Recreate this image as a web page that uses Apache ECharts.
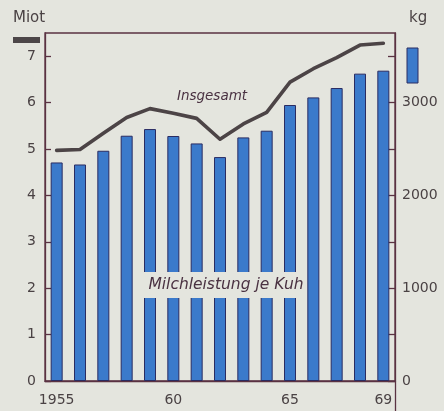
<!DOCTYPE html>
<html>
<head>
<meta charset="utf-8">
<script src="https://cdn.jsdelivr.net/npm/echarts@6/dist/echarts.min.js"></script>
<style>
html,body{margin:0;padding:0;background:#e4e5de;}
#c{width:444px;height:411px;}
</style>
</head>
<body>
<div id="c"></div>
<script>
const years = ['1955','1956','1957','1958','1959','1960','1961','1962','1963','1964','1965','1966','1967','1968','1969'];
const xTickLabels = ['1955','','','','','60','','','','','65','','','','69'];
const yieldKg = [2355, 2333, 2481, 2643, 2715, 2640, 2560, 2413, 2625, 2697, 2974, 3056, 3157, 3312, 3344];
const totalMiot = [4.97, 4.99, 5.34, 5.68, 5.87, 5.77, 5.66, 5.21, 5.54, 5.79, 6.44, 6.73, 6.97, 7.24, 7.28];
const leftTicks = ['0','1','2','3','4','5','6','7'];
const rightTicks = ['0','1000','2000','3000'];

const axisCol = '#5a3242';
const textCol = '#4a4244';
const bg = '#e4e5de';
const font = 'DejaVu Sans';

const chart = echarts.init(document.getElementById('c'), null, {renderer:'canvas'});
chart.setOption({
  backgroundColor: bg,
  animation: false,
  grid: {left:45, right:49, top:33, bottom:30, show:true, borderColor:axisCol, borderWidth:1.3, backgroundColor:'transparent'},
  xAxis: {
    type:'category', data: years, boundaryGap:true,
    axisLine:{show:true, lineStyle:{color:axisCol, width:1.3}},
    axisTick:{show:false},
    axisLabel:{
      interval:0, margin:12, color:textCol, fontFamily:font, fontSize:14,
      formatter:(v,i)=>xTickLabels[i]
    },
    splitLine:{show:false}
  },
  yAxis: [
    {
      type:'value', min:0, max:7.5, interval:1, position:'left',
      axisLine:{show:true, lineStyle:{color:axisCol, width:1.3}},
      axisTick:{show:true, inside:true, length:6, lineStyle:{color:axisCol, width:1.3}},
      axisLabel:{showMaxLabel:false, margin:9, color:textCol, fontFamily:font, fontSize:14,
        formatter:(v)=> leftTicks.includes(String(v)) ? String(v) : ''},
      splitLine:{show:false}
    },
    {
      type:'value', min:0, max:3750, interval:500, position:'right',
      axisLine:{show:true, lineStyle:{color:axisCol, width:1.3}},
      axisTick:{show:true, inside:true, length:7, lineStyle:{color:axisCol, width:1.3}},
      axisLabel:{showMaxLabel:false, margin:7, color:textCol, fontFamily:font, fontSize:14,
        formatter:(v)=> rightTicks.includes(String(v)) ? String(v) : ''},
      splitLine:{show:false}
    }
  ],
  series: [
    {
      type:'bar', yAxisIndex:1, data: yieldKg, barWidth:12,
      itemStyle:{color:'#3b7acb', borderColor:'#2a2c62', borderWidth:1}
    },
    {
      type:'line', yAxisIndex:0, data: totalMiot, symbol:'none', z:5,
      lineStyle:{color:'#4c4446', width:3.6, join:'round', cap:'round'}
    }
  ],
  graphic: [
    {type:'text', left:13, top:11, z:100, style:{text:'Miot', font:'15px "DejaVu Sans"', fill:textCol}},
    {type:'text', left:409, top:11, z:100, style:{text:'kg', font:'15px "DejaVu Sans"', fill:textCol}},
    {type:'rect', shape:{x:13, y:37, width:27, height:6}, z:100, style:{fill:'#4c4648'}},
    {type:'rect', shape:{x:407, y:48, width:11, height:35}, z:100, style:{fill:'#3b7acb', stroke:'#2a2c62', lineWidth:1}},
    {type:'line', shape:{x1:395.5, y1:381, x2:395.5, y2:411}, z:100, style:{stroke:axisCol, lineWidth:1.3}},
    {type:'rect', shape:{x:141, y:272, width:165, height:26}, z:100, style:{fill:bg}},
    {type:'text', x:226, y:285, z:101, style:{text:'Milchleistung je Kuh', font:'italic 15.5px "DejaVu Sans"', fill:'#4a3242', align:'center', verticalAlign:'middle'}},
    {type:'text', x:212, y:96, z:101, style:{text:'Insgesamt', font:'italic 13.5px "DejaVu Sans"', fill:'#4a3242', align:'center', verticalAlign:'middle'}}
  ]
});
</script>
</body>
</html>
